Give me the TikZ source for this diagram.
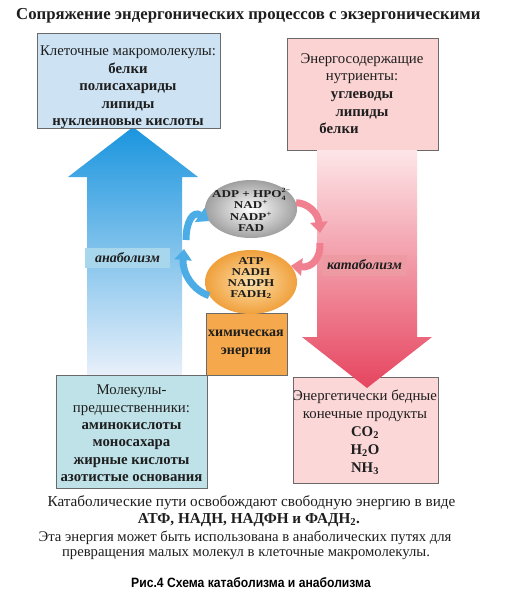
\documentclass[tikz,border=0pt]{standalone}
\usepackage{fontspec}
\setmainfont{Liberation Serif}
\newfontfamily\capfont[FakeStretch=0.9]{Liberation Sans}
\newfontfamily\ballfont[FakeStretch=1.25]{Liberation Serif}
\usetikzlibrary{shapes.geometric,arrows.meta}
\definecolor{anaTop}{HTML}{1A95DE}
\definecolor{anaMid}{HTML}{72BCE9}
\definecolor{anaBot}{HTML}{E8F0FA}
\definecolor{katTop}{HTML}{FDE6E8}
\definecolor{katMid}{HTML}{F3A2AA}
\definecolor{katBot}{HTML}{E6455F}
\definecolor{boxTL}{HTML}{CDE3F4}
\definecolor{boxTR}{HTML}{FBD3D3}
\definecolor{boxBL}{HTML}{BEE2E8}
\definecolor{boxBR}{HTML}{FBD7D8}
\definecolor{orangeBox}{HTML}{F5A94C}
\definecolor{edgeGrey}{HTML}{6A6A6A}
\definecolor{anaLab}{HTML}{A8D6EC}
\definecolor{katLab}{HTML}{EE9AA3}
\definecolor{cycBlue}{HTML}{4CADE6}
\definecolor{cycRed}{HTML}{F0808F}
\definecolor{txt}{HTML}{1E1E1E}
\newcommand{\myscr}[1]{{\fontsize{6.5}{6.5}\selectfont #1}}
\begin{document}
\begin{tikzpicture}[x=1pt,y=-1pt,
  every node/.style={text=txt},
  box/.style={draw=edgeGrey, line width=1pt, inner sep=0pt},
  boxtxt/.style={align=center, inner sep=0pt, font=\fontsize{14.8}{17.4}\selectfont},
  lab/.style={inner sep=0pt, font=\fontsize{14}{15}\selectfont\bfseries\itshape},
  balltxt/.style={align=center, inner sep=0pt, font=\ballfont\fontsize{10.5}{11.6}\selectfont\bfseries},
  bluearr/.style={draw=cycBlue, line width=7pt, -{Triangle[width=17pt,length=11pt]}},
  redarr/.style={draw=cycRed, line width=7pt, -{Triangle[width=17pt,length=11pt]}},
  bottxt/.style={inner sep=0pt, font=\fontsize{15.2}{17}\selectfont},
  bottxtb/.style={inner sep=0pt, font=\fontsize{14.7}{17}\selectfont}
]
\useasboundingbox[fill=white] (0,0) rectangle (511,598);

% title
\node[anchor=west, inner sep=0pt, font=\fontsize{16.75}{19}\selectfont\bfseries] (title) at (16,16)
  {Сопряжение эндергонических процессов с экзергоническими};

% big anabolism arrow (blue, up)
\shade[top color=anaTop, middle color=anaMid, bottom color=anaBot]
  (87,375) -- (87,177) -- (68,177) -- (133,127) -- (198,177) -- (182,177) -- (182,375) -- cycle;

% boxes top
\node[box, fill=boxTL, minimum width=183pt, minimum height=95pt] (tl) at (128.5,80.5) {};
\node[boxtxt] (tltxt) at (128,87.5) {Клеточные макромолекулы:\\ \textbf{белки}\\ \textbf{полисахариды}\\ \textbf{липиды}\\ \textbf{нуклеиновые кислоты}};

\node[box, fill=boxTR, minimum width=151pt, minimum height=112pt] (tr) at (362.5,94) {};
\node[boxtxt, anchor=north, font=\fontsize{14.8}{17.8}\selectfont] (trtxt1) at (362,53) {Энергосодержащие\\ нутриенты:\\ \textbf{углеводы}\\ \textbf{липиды}};
\node[boxtxt, anchor=base, font=\fontsize{14.8}{17}\selectfont\bfseries] (trtxt2) at (339,133) {белки};

% bottom boxes
\node[box, fill=boxBL, minimum width=151pt, minimum height=113pt] (bl) at (131.5,431.5) {};
\node[boxtxt] (bltxt) at (131.5,433.5) {Молекулы-\\ предшественники:\\ \textbf{аминокислоты}\\ \textbf{моносахара}\\ \textbf{жирные кислоты}\\ \textbf{азотистые основания}};

\node[box, fill=boxBR, minimum width=145pt, minimum height=106pt] (br) at (365.5,430) {};
\node[boxtxt, font=\fontsize{14.8}{18}\selectfont] (brtxt) at (365,432) {Энергетически бедные\\ конечные продукты\\ \textbf{CO\textsubscript{2}}\\ \textbf{H\textsubscript{2}O}\\ \textbf{NH\textsubscript{3}}};

% big catabolism arrow (red, down)
\shade[top color=katTop, middle color=katMid, bottom color=katBot]
  (317,150) -- (317,337) -- (302,337) -- (367,388) -- (432,337) -- (417,337) -- (417,150) -- cycle;

% labels on arrows
\node[lab, fill=anaLab, minimum width=85pt, minimum height=20pt] (ana) at (127.5,258) {анаболизм};
\node[lab, fill=katLab, minimum width=85pt, minimum height=21pt] (kat) at (364.5,265) {катаболизм};

% orange box
\node[box, fill=orangeBox, minimum width=81pt, minimum height=62pt] (chem) at (246.5,344) {};
\node[align=center, inner sep=0pt, font=\fontsize{14}{18}\selectfont\bfseries] (chemtxt) at (246,344) {химическая\\ энергия};

% balls
\node[ellipse, minimum width=92pt, minimum height=58pt, inner sep=0pt,
      shading=radial, inner color=white, outer color=gray!75] (grey) at (251,209) {};
\node[balltxt] (greytxt) at (251,210) {ADP + HPO\rlap{\raisebox{0.45em}{\myscr{2−}}}\raisebox{-0.28em}{\myscr{4}}\hphantom{\myscr{2}}\\ NAD\textsuperscript{+}\\ NADP\textsuperscript{+}\\ FAD};

\node[ellipse, minimum width=92pt, minimum height=64pt, inner sep=0pt,
      shading=radial, inner color={rgb,255:red,253;green,224;blue,170}, outer color={rgb,255:red,240;green,160;blue,60}] (orng) at (251,282) {};
\node[balltxt, font=\ballfont\fontsize{10.5}{10.8}\selectfont\bfseries] (orngtxt) at (251,278.5) {ATP\\ NADH\\ NADPH\\ FADH\textsubscript{2}};

% cycle arrows
\coordinate (bA) at (184,249);
\coordinate (bB) at (186,240);
\coordinate (rA) at (320,233);
\coordinate (rB) at (320,243);
\draw[bluearr] (orng.198) .. controls (192,290) and (182,272) .. (bA);
\draw[bluearr] (bB) .. controls (186,222) and (193,210) .. (grey.196);
\draw[redarr] (grey.8) .. controls (308,203) and (318,213) .. (rA);
\draw[redarr] (rB) .. controls (321,258) and (312,268) .. (orng.22);

% bottom text
\node[bottxt] (b1) at (251.5,503) {Катаболические пути освобождают свободную энергию в виде};
\node[bottxt, font=\fontsize{15.2}{17}\selectfont\bfseries] (b2) at (249,520) {АТФ, НАДН, НАДФН и ФАДН\textsubscript{2}.};
\node[bottxtb] (b3) at (245,538) {Эта энергия может быть использована в анаболических путях для};
\node[bottxtb] (b4) at (246,555) {превращения малых молекул в клеточные макромолекулы.};

\node[inner sep=0pt, font=\capfont\fontsize{13.5}{15}\selectfont\bfseries, text=black] (cap) at (251,583) {Рис.4 Схема катаболизма и анаболизма};
\end{tikzpicture}
\end{document}
